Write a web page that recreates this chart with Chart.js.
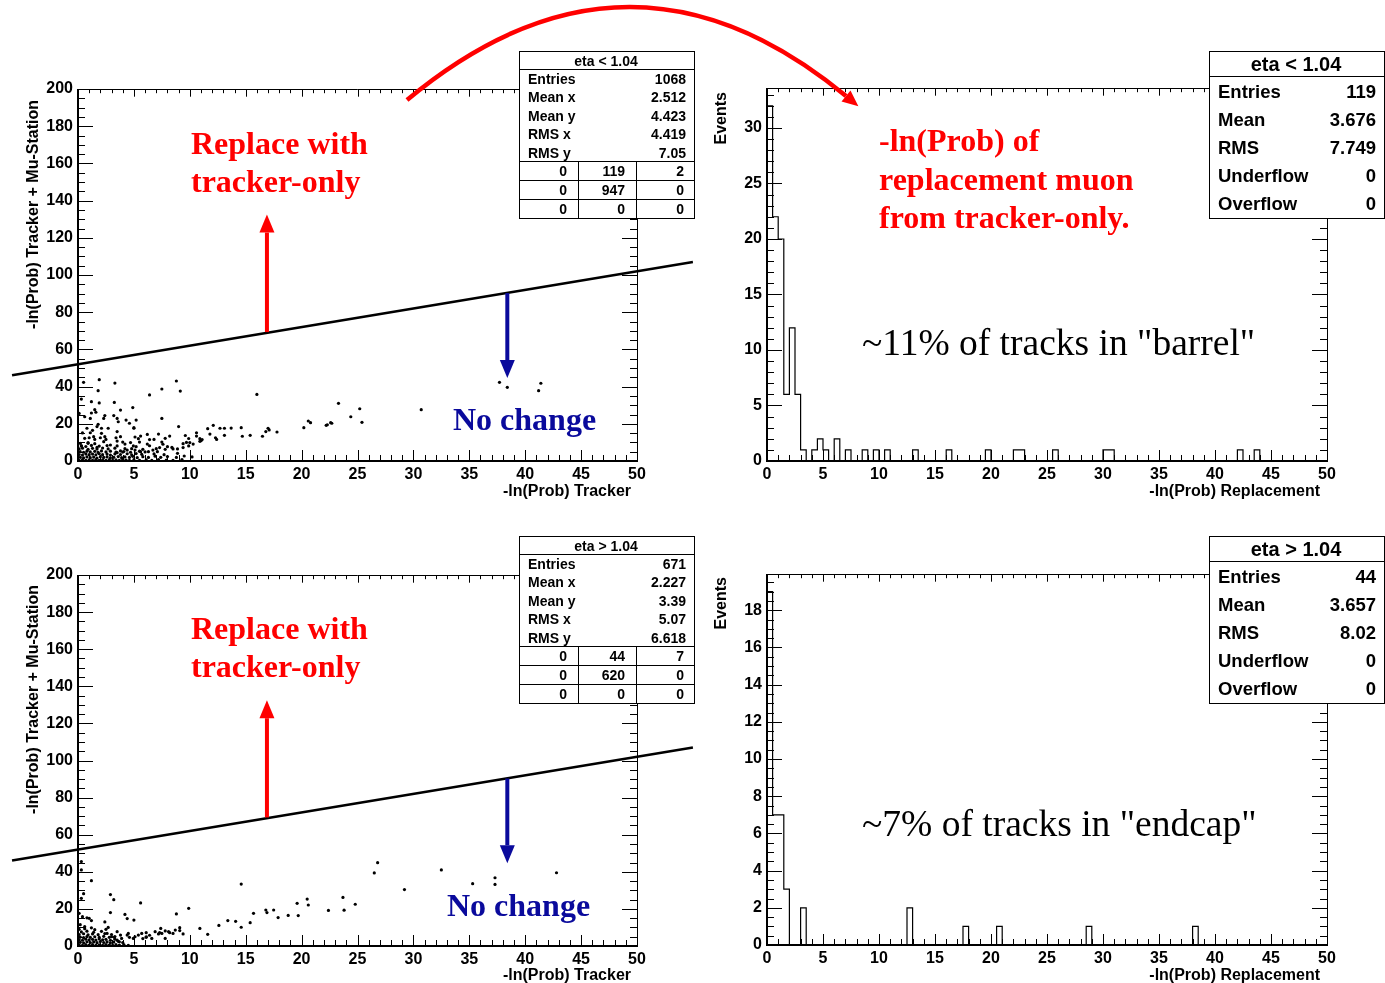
<!DOCTYPE html>
<html>
<head>
<meta charset="utf-8">
<script src="https://cdn.jsdelivr.net/npm/chart.js@4.4.0/dist/chart.umd.min.js"></script>
<style>
    body { margin: 0; width: 1385px; height: 983px; background: #fff; position: relative; overflow: hidden; }
    canvas.panel { position: absolute; }
    .txt { position: absolute; white-space: nowrap; line-height: 1; }
    .rect { position: absolute; background: #fff; border: 1px solid #000; box-sizing: border-box; }
    .hl { position: absolute; height: 1px; background: #000; }
    .vl { position: absolute; width: 1px; background: #000; }
    #arc { position: absolute; left: 0; top: 0; pointer-events: none; }
</style>
</head>
<body>
<svg id="arc" width="1385" height="983">
    <path d="M407,100 Q628,-84 846,96" stroke="#ff0000" stroke-width="4.5" fill="none"/>
    <polygon points="858.4,106.2 841.5,101.4 850.5,90.6" fill="#ff0000"/>
</svg>
<script>
// ---- data ----
const binWidth = 0.5;
const xRange = [0, 50];
const scatterYRange = [0, 200];
const xMajorStep = 5;
const scatterYStep = 20;
const barrelYStep = 5;
const endcapYStep = 2;

// -ln(Prob) replacement, 100 bins of 0.5
const barrelCounts = [
    32, 22, 20, 6, 12, 6, 1, 0, 1, 2,
    1, 0, 2, 0, 1, 0, 0, 1, 0, 1,
    0, 1, 0, 0, 0, 0, 1, 0, 0, 0,
    0, 0, 1, 0, 0, 0, 0, 0, 0, 1,
    0, 0, 0, 0, 1, 1, 0, 0, 0, 0,
    0, 1, 0, 0, 0, 0, 0, 0, 0, 0,
    1, 1, 0, 0, 0, 0, 0, 0, 0, 0,
    0, 0, 0, 0, 0, 0, 0, 0, 0, 0,
    0, 0, 0, 0, 1, 0, 0, 1, 0, 0,
    0, 0, 0, 0, 0, 0, 0, 0, 0, 0
];
const endcapCounts = [
    19, 7, 7, 3, 0, 0, 2, 0, 0, 0,
    0, 0, 0, 0, 0, 0, 0, 0, 0, 0,
    0, 0, 0, 0, 0, 2, 0, 0, 0, 0,
    0, 0, 0, 0, 0, 1, 0, 0, 0, 0,
    0, 1, 0, 0, 0, 0, 0, 0, 0, 0,
    0, 0, 0, 0, 0, 0, 0, 1, 0, 0,
    0, 0, 0, 0, 0, 0, 0, 0, 0, 0,
    0, 0, 0, 0, 0, 0, 1, 0, 0, 0,
    0, 0, 0, 0, 0, 0, 0, 0, 0, 0,
    0, 0, 0, 0, 0, 0, 0, 0, 0, 0
];

// tracker vs tracker + muon station, eta < 1.04
const barrelScatter = [
    [0.1,0.4],[0.4,0.7],[0.7,0.3],[1.0,0.6],[1.3,0.4],[1.6,0.8],[1.9,0.3],[2.2,0.6],[2.5,0.4],[2.8,0.7],[3.1,0.3],[3.4,0.6],
    [3.7,0.4],[4.0,0.8],[4.3,0.5],[4.6,0.3],[5.0,0.7],[5.5,0.4],[6.1,0.6],[6.6,0.3],[7.2,0.7],[7.9,0.5],[8.5,0.4],[9.3,0.8],
    [0.2,2.0],[0.5,1.7],[0.8,2.2],[1.1,1.8],[1.4,2.1],[1.7,1.6],[2.0,2.3],[2.3,1.9],[2.6,2.2],[2.9,1.7],[3.2,2.0],[3.6,2.4],
    [3.9,1.8],[4.2,2.2],[4.6,1.9],[4.9,2.5],[5.3,1.8],[5.8,2.3],[6.3,1.9],[6.9,2.6],[7.4,2.0],[8.0,2.4],[8.8,1.9],[9.5,2.7],[10.2,2.2],
    [0.1,3.5],[0.4,3.2],[0.7,3.8],[1.0,3.4],[1.3,3.7],[1.6,3.3],[1.9,3.9],[2.2,3.4],[2.6,3.7],[2.9,3.2],[3.3,3.8],[3.8,3.5],
    [4.4,3.9],[4.8,3.3],[5.2,4.0],[5.7,3.6],[6.8,3.8],[7.7,3.4],[8.9,4.1],
    [0.2,5.0],[0.5,4.7],[0.8,5.3],[1.1,4.9],[1.5,5.2],[1.8,4.6],[2.1,5.4],[2.5,4.9],[2.9,5.3],[3.4,4.8],[4.1,5.1],[4.7,4.7],[5.5,5.3],[6.0,4.9],
    [0.1,6.5],[0.4,6.9],[0.9,6.3],[1.3,6.8],[1.7,6.4],[2.2,7.0],[2.7,6.5],[3.3,6.9],[4.2,6.6],
    [0.3,8.1],[0.7,7.8],[1.2,8.4],[1.9,8.0],[2.6,8.3],[0.2,9.5],[0.9,9.9],[1.5,9.3],
    [4.7,9.9],[5.4,12.0],[5.5,10.2],[6.2,9.1],[6.4,8.2],[6.3,5.0],[7.1,5.0],[7.3,7.2],[7.5,10.2],[7.6,9.0],[8.4,7.3],[8.5,6.5],
    [8.9,6.5],[9.4,9.3],[9.7,10.0],[10.0,9.9],[10.3,9.1],[10.9,10.6],[11.0,10.9],[9.4,7.2],[9.9,8.1],[8.0,7.7],[7.0,6.6],[5.8,6.3],
    [5.2,7.7],[5.1,5.9],[4.8,6.6],[4.4,5.9],[4.0,4.8],[3.8,5.4],[3.5,4.5],[5.6,5.0],[6.7,5.9],[7.8,6.3],[4.95,8.1],[4.2,9.1],
    [3.5,8.1],[2.9,8.6],[2.3,10.4],[2.1,14.9],[2.4,13.1],[3.8,13.1],[3.5,15.8],[2.7,17.6],[1.1,15.2],[0.6,12.2],[1.4,13.1],
    [0.3,8.1],[0.9,9.5],[1.7,7.3],[1.3,16.5],[0.4,15.1],[1.0,12.5],[1.5,11.6],[2.0,12.5],[2.5,11.6],[3.4,12.5],[3.5,10.7],
    [4.0,10.2],[5.1,12.9],[5.6,13.4],[6.4,11.5],[6.8,11.6],[7.8,12.2],[9.6,13.7],[9.9,12.1],[10.9,12.0],[11.1,11.5],
    [0.3,33.3],[1.2,31.9],[1.9,31.2],[3.25,31.5],[3.8,27.4],[4.9,28.7],[1.5,27.6],[1.6,26.2],[1.2,25.8],[0.1,25.6],[0.6,23.8],
    [1.1,22.9],[2.4,24.4],[2.3,22.9],[3.2,24.4],[3.5,22.9],[3.6,21.1],[4.3,22.0],[5.2,22.0],[5.0,17.9],[7.5,22.9],[9.0,18.5],
    [1.8,19.7],[1.7,18.5],[2.1,17.6],[0.8,17.6],[4.6,20.3],[5.0,17.6],[6.2,14.3],[7.2,14.5],[8.2,13.4],
    [10.6,15.2],[10.6,13.4],[11.6,17.4],[12.1,19.2],[11.8,14.5],[12.3,12.5],[12.4,11.6],[12.7,17.6],[13.1,17.6],[13.1,13.8],
    [13.7,17.7],[14.6,17.9],[14.7,13.3],[15.4,13.8],[16.5,13.3],[16.8,15.8],[17.0,17.6],[17.1,16.7],[17.8,15.6],
    [20.2,17.9],[20.6,21.5],[20.8,20.6],[22.2,19.2],[22.3,19.5],[22.6,20.6],[22.7,20.3],[24.4,23.8],[23.3,31.0],[25.2,28.1],[25.4,20.8],
    [0.5,42.3],[1.9,43.7],[1.8,37.8],[3.3,41.9],[6.4,35.5],[7.5,38.7],[8.8,43.0],[9.15,37.6],[16.0,35.8],
    [30.7,27.6],[37.7,42.3],[38.4,39.6],[41.2,37.8],[41.4,41.8]
];

// eta > 1.04
const endcapScatter = [
    [0.1,0.6],[0.4,0.3],[0.7,0.8],[1.0,0.5],[1.3,0.7],[1.6,0.3],[1.9,0.6],[2.2,0.4],[2.5,0.8],[2.8,0.5],[3.1,0.3],[3.4,0.7],[3.7,0.5],[4.1,0.8],[4.5,0.4],
    [0.2,2.0],[0.5,1.7],[0.8,2.3],[1.1,1.9],[1.4,2.2],[1.7,1.8],[2.0,2.4],[2.3,1.9],[2.6,2.2],[2.9,1.7],[3.2,2.1],[3.6,2.5],[4.0,1.9],
    [0.1,3.4],[0.4,3.1],[0.7,3.7],[1.0,3.3],[1.3,3.6],[1.6,3.2],[1.9,3.8],[2.2,3.3],[2.5,3.6],[2.9,3.1],[3.3,3.7],
    [0.2,4.8],[0.5,4.5],[0.8,5.1],[1.1,4.7],[1.5,5.0],[1.9,4.6],[2.3,5.2],[2.8,4.7],[3.3,5.1],
    [0.1,6.2],[0.5,6.6],[0.9,6.0],[1.3,6.5],[1.8,6.1],[2.4,6.7],[3.0,6.2],
    [0.3,7.6],[0.8,8.0],[1.4,7.4],[2.1,7.9],[0.1,9.0],[0.6,9.3],[1.5,8.8],
    [4.6,4.7],[4.95,4.1],[5.4,5.9],[6.1,4.7],[6.6,4.1],[7.3,7.2],[7.8,4.1],[8.2,7.2],[9.1,8.3],[9.4,6.5],
    [7.4,9.5],[7.8,8.1],[6.9,7.7],[6.1,7.2],[6.4,5.8],[5.7,6.8],[4.5,6.8],[4.4,5.9],[5.1,5.0],[5.8,4.0],[6.1,5.0],[7.2,6.5],
    [7.5,6.8],[8.1,7.7],[8.5,6.8],[8.7,8.6],[9.1,9.9],[3.5,7.7],[3.8,5.9],[3.9,4.1],[3.25,4.7],[2.6,6.8],[3.5,3.2],[3.7,2.3],
    [3.0,5.0],[2.7,10.0],[1.0,14.9],[2.5,9.0],[1.2,9.8],[0.2,11.5],[0.6,10.4],
    [0.3,45.5],[0.3,41.0],[1.2,35.2],[0.5,28.2],[0.3,25.7],[2.9,27.7],[3.2,25.0],[5.6,23.2],[14.6,33.4],[9.9,20.3],[8.8,17.3],
    [4.2,17.0],[4.4,14.8],[5.0,14.0],[2.9,18.0],[2.4,13.0],[1.2,13.7],[0.1,17.6],[0.4,15.8],[0.8,15.2],
    [10.9,9.5],[11.6,6.3],[12.6,11.1],[13.4,13.7],[14.1,13.3],[14.6,10.1],[15.4,12.6],[15.7,17.6],[16.8,19.4],[16.9,18.0],
    [17.5,19.4],[17.9,15.3],[18.8,16.5],[19.6,23.0],[19.7,16.4],[20.5,25.3],[20.6,22.1],[22.4,19.2],[23.7,26.2],[23.8,19.3],
    [24.8,22.5],[26.5,39.4],[26.8,44.9],[29.2,30.4],[32.5,41.0],[35.3,33.6],[37.3,36.8],[37.3,33.2],[42.8,39.5]
];

// cut line and arrows, in data units of the scatter plots
const cutLine = [[-5.9, 46.1], [55.0, 107.0]];
const replaceArrow = [[16.9, 69.3], [16.9, 132.5]];
const keepArrow = [[38.4, 90.3], [38.4, 44.6]];

// stats boxes
const scatterStatLabels = ['Entries', 'Mean x', 'Mean y', 'RMS x', 'RMS y'];
const barrelScatterStats = ['1068', '2.512', '4.423', '4.419', '7.05'];
const endcapScatterStats = ['671', '2.227', '3.39', '5.07', '6.618'];
const barrelFlowGrid = [['0', '119', '2'], ['0', '947', '0'], ['0', '0', '0']];
const endcapFlowGrid = [['0', '44', '7'], ['0', '620', '0'], ['0', '0', '0']];
const histStatLabels = ['Entries', 'Mean', 'RMS', 'Underflow', 'Overflow'];
const barrelHistStats = ['119', '3.676', '7.749', '0', '0'];
const endcapHistStats = ['44', '3.657', '8.02', '0', '0'];

// ---- helpers ----
const SANS = "'Liberation Sans', Arial, Helvetica, sans-serif";
const SERIF = "'Liberation Serif', 'Times New Roman', serif";
const tickFont = { family: SANS, size: 16, weight: 'bold' };

function histPoints(counts) {
    const pts = [{ x: 0, y: 0 }];
    counts.forEach((c, i) => pts.push({ x: i * binWidth, y: c }));
    pts.push({ x: counts.length * binWidth, y: 0 });
    return pts;
}

function toXY(list) {
    return list.map(p => ({ x: p[0], y: p[1] }));
}

// ROOT-like frame with inward ticks on all four sides
const rootFrame = {
    id: 'rootFrame',
    afterDraw(chart, args, o) {
        const { ctx, chartArea: a, scales: { x, y } } = chart;
        ctx.save();
        ctx.strokeStyle = '#000';
        ctx.lineWidth = 1;
        ctx.beginPath();
        const nx = Math.round((x.max - x.min) / o.xMinor);
        for (let i = 0; i <= nx; i++) {
            const v = x.min + i * o.xMinor;
            const px = Math.round(x.getPixelForValue(v)) + 0.5;
            const len = (i % o.xSub === 0) ? 11 : 6;
            ctx.moveTo(px, a.bottom); ctx.lineTo(px, a.bottom - len);
            ctx.moveTo(px, a.top); ctx.lineTo(px, a.top + len * 0.7);
        }
        const ny = Math.floor((y.max - y.min) / o.yMinor + 1e-6);
        for (let i = 0; i <= ny; i++) {
            const v = y.min + i * o.yMinor;
            const py = Math.round(y.getPixelForValue(v)) + 0.5;
            const len = (i % o.ySub === 0) ? 15 : 7;
            ctx.moveTo(a.left, py); ctx.lineTo(a.left + len, py);
            ctx.moveTo(a.right, py); ctx.lineTo(a.right - len, py);
        }
        ctx.stroke();
        // frame
        ctx.beginPath();
        ctx.moveTo(a.left, a.top + 0.5); ctx.lineTo(a.right + 0.5, a.top + 0.5); ctx.lineTo(a.right + 0.5, a.bottom);
        ctx.stroke();
        ctx.lineWidth = 2;
        ctx.beginPath();
        ctx.moveTo(a.left, a.top); ctx.lineTo(a.left, a.bottom); ctx.lineTo(a.right + 1, a.bottom);
        ctx.stroke();
        ctx.restore();
    }
};

// arrows given in data coordinates
const dataArrows = {
    id: 'dataArrows',
    afterDatasetsDraw(chart, args, o) {
        const { ctx, scales: { x, y } } = chart;
        (o.list || []).forEach(ar => {
            const x0 = x.getPixelForValue(ar.from[0]), y0 = y.getPixelForValue(ar.from[1]);
            const x1 = x.getPixelForValue(ar.to[0]), y1 = y.getPixelForValue(ar.to[1]);
            const len = Math.hypot(x1 - x0, y1 - y0);
            const ux = (x1 - x0) / len, uy = (y1 - y0) / len;
            const head = 18, half = 7.5;
            const bx = x1 - ux * head, by = y1 - uy * head;
            ctx.save();
            ctx.strokeStyle = ar.color;
            ctx.fillStyle = ar.color;
            ctx.lineWidth = 4;
            ctx.beginPath();
            ctx.moveTo(x0, y0); ctx.lineTo(bx, by);
            ctx.stroke();
            ctx.beginPath();
            ctx.moveTo(x1, y1);
            ctx.lineTo(bx - uy * half, by + ux * half);
            ctx.lineTo(bx + uy * half, by - ux * half);
            ctx.closePath();
            ctx.fill();
            ctx.restore();
        });
    }
};

function makeCanvas(box) {
    const cv = document.createElement('canvas');
    cv.className = 'panel';
    cv.width = box.w; cv.height = box.h;
    cv.style.left = box.x + 'px'; cv.style.top = box.y + 'px';
    cv.style.width = box.w + 'px'; cv.style.height = box.h + 'px';
    document.body.appendChild(cv);
    return cv;
}

function axisOptions(box, area, xOpt, yOpt) {
    return {
        x: Object.assign({
            type: 'linear', position: 'bottom', min: xRange[0], max: xRange[1],
            afterFit: s => { s.height = box.y + box.h - area.bottom; },
            grid: { display: false, drawTicks: false }, border: { display: false },
            ticks: { stepSize: xMajorStep, font: tickFont, color: '#000', padding: 4, maxRotation: 0, autoSkip: false, includeBounds: false }
        }, xOpt),
        y: Object.assign({
            type: 'linear', position: 'left',
            afterFit: s => { s.width = area.left - box.x; },
            grid: { display: false, drawTicks: false }, border: { display: false },
            ticks: { font: tickFont, color: '#000', padding: 5, autoSkip: false, includeBounds: false }
        }, yOpt)
    };
}

function layoutPadding(box, area) {
    return { left: 0, top: area.top - box.y, right: box.x + box.w - area.right, bottom: 0 };
}

function scatterPanel(box, area, points) {
    const cv = makeCanvas(box);
    new Chart(cv.getContext('2d'), {
        type: 'scatter',
        data: {
            datasets: [
                {
                    data: toXY(points),
                    pointRadius: 1.6,
                    pointBackgroundColor: '#000',
                    pointBorderWidth: 0
                },
                {
                    data: toXY(cutLine),
                    showLine: true,
                    borderColor: '#000',
                    borderWidth: 2.6,
                    pointRadius: 0,
                    clip: false
                }
            ]
        },
        options: {
            responsive: false,
            animation: false,
            events: [],
            layout: { padding: layoutPadding(box, area) },
            scales: axisOptions(box, area, {}, {
                min: scatterYRange[0], max: scatterYRange[1],
                ticks: { stepSize: scatterYStep, font: tickFont, color: '#000', padding: 5, autoSkip: false, includeBounds: false }
            }),
            plugins: {
                legend: { display: false },
                tooltip: { enabled: false },
                rootFrame: { xMinor: 1, xSub: 5, yMinor: 5, ySub: 4 },
                dataArrows: {
                    list: [
                        { from: replaceArrow[0], to: replaceArrow[1], color: '#ff0000' },
                        { from: keepArrow[0], to: keepArrow[1], color: '#0a0a9c' }
                    ]
                }
            }
        },
        plugins: [rootFrame, dataArrows]
    });
}

function histPanel(box, area, counts, yStep, yMinor) {
    const cv = makeCanvas(box);
    const yMax = Math.max(...counts) * 1.05;
    new Chart(cv.getContext('2d'), {
        type: 'line',
        data: {
            datasets: [{
                data: histPoints(counts),
                stepped: true,
                borderColor: '#000',
                borderWidth: 1.2,
                pointRadius: 0,
                fill: false
            }]
        },
        options: {
            responsive: false,
            animation: false,
            events: [],
            layout: { padding: layoutPadding(box, area) },
            scales: axisOptions(box, area, {}, {
                min: 0, max: yMax,
                ticks: { stepSize: yStep, font: tickFont, color: '#000', padding: 5, autoSkip: false, includeBounds: false }
            }),
            plugins: {
                legend: { display: false },
                tooltip: { enabled: false },
                rootFrame: { xMinor: 1, xSub: 5, yMinor: yMinor, ySub: Math.round(yStep / yMinor) }
            }
        },
        plugins: [rootFrame]
    });
}

function addText(x, y, str, font, color, align, rotate) {
    const d = document.createElement('div');
    d.className = 'txt';
    d.textContent = str;
    d.style.font = font;
    d.style.lineHeight = '1';
    d.style.color = color || '#000';
    d.style.left = x + 'px';
    d.style.top = y + 'px';
    if (rotate) {
        d.style.transformOrigin = '0 0';
        d.style.transform = 'rotate(-90deg) translate(-100%, -50%)';
    } else {
        const tx = align === 'right' ? '-100%' : align === 'center' ? '-50%' : '0';
        d.style.transform = 'translate(' + tx + ', -50%)';
    }
    document.body.appendChild(d);
}

function addRect(x, y, w, h) {
    const d = document.createElement('div');
    d.className = 'rect';
    Object.assign(d.style, { left: x + 'px', top: y + 'px', width: w + 'px', height: h + 'px' });
    document.body.appendChild(d);
}

function addLine(cls, x, y, len) {
    const d = document.createElement('div');
    d.className = cls;
    d.style.left = x + 'px';
    d.style.top = y + 'px';
    if (cls === 'hl') d.style.width = len + 'px'; else d.style.height = len + 'px';
    document.body.appendChild(d);
}

function scatterStatsBox(top, title, values, grid) {
    const f = 'bold 14px ' + SANS;
    addRect(519, top, 176, 168);
    addLine('hl', 519, top + 18, 176);
    addText(606, top + 9.5, title, f, '#000', 'center');
    scatterStatLabels.forEach((lab, i) => {
        const cy = top + 27.5 + i * 18.5;
        addText(528, cy, lab, f, '#000', 'left');
        addText(686, cy, values[i], f, '#000', 'right');
    });
    const colEdges = [519, 578, 636, 695];
    [110, 129, 148].forEach(off => addLine('hl', 519, top + off, 176));
    addLine('vl', 578, top + 110, 58);
    addLine('vl', 636, top + 110, 58);
    grid.forEach((row, r) => {
        row.forEach((v, c) => {
            addText(colEdges[c + 1] - 11, top + 120 + r * 19, v, f, '#000', 'right');
        });
    });
}

function histStatsBox(top, title, values) {
    const f = 'bold 18.5px ' + SANS;
    addRect(1209, top, 176, 168);
    addLine('hl', 1209, top + 25, 176);
    addText(1296, top + 13, title, 'bold 20px ' + SANS, '#000', 'center');
    histStatLabels.forEach((lab, i) => {
        const cy = top + 41 + i * 28;
        addText(1218, cy, lab, f, '#000', 'left');
        addText(1376, cy, values[i], f, '#000', 'right');
    });
}

// ---- build the four panels ----
const areaTL = { left: 78, right: 637, top: 89, bottom: 461 };
const areaTR = { left: 767, right: 1327, top: 88, bottom: 461 };
const areaBL = { left: 78, right: 637, top: 575, bottom: 946 };
const areaBR = { left: 767, right: 1327, top: 574, bottom: 945 };

scatterPanel({ x: 0, y: 0, w: 700, h: 500 }, areaTL, barrelScatter);
histPanel({ x: 700, y: 0, w: 685, h: 500 }, areaTR, barrelCounts, barrelYStep, 1);
scatterPanel({ x: 0, y: 490, w: 700, h: 493 }, areaBL, endcapScatter);
histPanel({ x: 700, y: 490, w: 685, h: 493 }, areaBR, endcapCounts, endcapYStep, 0.5);

// arc on top of the canvases
document.body.appendChild(document.getElementById('arc'));

// axis titles
const axFont = 'bold 16px ' + SANS;
addText(631, 491, '-ln(Prob) Tracker', axFont, '#000', 'right');
addText(1320, 491, '-ln(Prob) Replacement', axFont, '#000', 'right');
addText(631, 975, '-ln(Prob) Tracker', axFont, '#000', 'right');
addText(1320, 975, '-ln(Prob) Replacement', axFont, '#000', 'right');
addText(33, 100, '-ln(Prob) Tracker + Mu-Station', axFont, '#000', 'left', true);
addText(33, 585, '-ln(Prob) Tracker + Mu-Station', axFont, '#000', 'left', true);
addText(721, 92, 'Events', axFont, '#000', 'left', true);
addText(721, 577, 'Events', axFont, '#000', 'left', true);

// annotations
const bigRed = 'bold 32px ' + SERIF;
const bigBlue = 'bold 32px ' + SERIF;
addText(191, 143, 'Replace with', bigRed, '#ff0000', 'left');
addText(191, 181, 'tracker-only', bigRed, '#ff0000', 'left');
addText(191, 628, 'Replace with', bigRed, '#ff0000', 'left');
addText(191, 666, 'tracker-only', bigRed, '#ff0000', 'left');
addText(453, 419, 'No change', bigBlue, '#0a0a9c', 'left');
addText(447, 905, 'No change', bigBlue, '#0a0a9c', 'left');
addText(879, 140, '-ln(Prob) of', 'bold 32px ' + SERIF, '#ff0000', 'left');
addText(879, 179, 'replacement muon', 'bold 32px ' + SERIF, '#ff0000', 'left');
addText(879, 217, 'from tracker-only.', 'bold 32px ' + SERIF, '#ff0000', 'left');
addText(862, 343, '~11% of tracks in "barrel"', '37.5px ' + SERIF, '#000', 'left');
addText(862, 824, '~7% of tracks in "endcap"', '37.5px ' + SERIF, '#000', 'left');

// stats boxes
scatterStatsBox(51, 'eta < 1.04', barrelScatterStats, barrelFlowGrid);
scatterStatsBox(536, 'eta > 1.04', endcapScatterStats, endcapFlowGrid);
histStatsBox(51, 'eta < 1.04', barrelHistStats);
histStatsBox(536, 'eta > 1.04', endcapHistStats);
</script>
</body>
</html>
